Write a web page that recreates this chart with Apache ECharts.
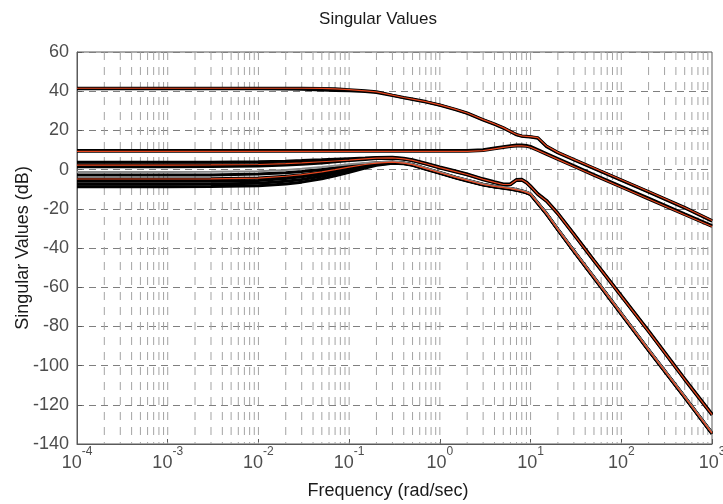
<!DOCTYPE html>
<html>
<head>
<meta charset="utf-8">
<script src="https://cdn.jsdelivr.net/npm/echarts@6/dist/echarts.min.js"></script>
<style>
html,body{margin:0;padding:0;background:#fff;}
#chart{width:723px;height:504px;}
</style>
</head>
<body>
<div id="chart"></div>
<script>
// ---- data (frequency in rad/sec, singular values in dB) ----
const FREQ = [1e-4, 1e-3, 3e-3, 0.01, 0.02, 0.03, 0.05, 0.07, 0.1, 0.15, 0.2, 0.3, 0.4, 0.5, 0.7, 1, 1.5, 2, 3, 4, 5, 6, 7, 8, 9, 10, 12, 15, 20, 30, 50, 100, 200, 500, 1000];

// nominal curves (red)
const SV1 = [41.5,41.5,41.5,41.5,41.5,41.5,41.4,41.2,40.8,40.2,39.7,38.0,36.8,36.0,34.7,33.0,30.7,28.9,25.5,23.3,21.4,19.5,17.9,17.2,17.0,16.8,16.3,12.0,8.8,5.2,0.8,-5.2,-11.2,-19.3,-26.0];
const SV2 = [9.3,9.3,9.3,9.3,9.3,9.3,9.3,9.3,9.3,9.3,9.3,9.3,9.3,9.3,9.3,9.3,9.3,9.3,9.7,10.6,11.3,11.8,12.1,12.1,11.9,11.4,9.8,7.8,5.2,1.6,-2.9,-9.0,-15.0,-23.0,-29.0];
const SV3 = [2.3,2.3,2.4,2.6,3.0,3.4,4.0,4.4,4.8,5.5,5.9,6.0,5.5,4.7,3.0,1.0,-1.0,-2.5,-5.0,-6.5,-7.6,-7.5,-5.3,-5.2,-6.6,-8.6,-12.5,-16.0,-22.5,-33.0,-46.5,-64.5,-82.5,-107.0,-125.0];
const SV4 = [-4.8,-4.8,-4.7,-4.3,-3.4,-2.6,-1.2,0.0,1.3,2.6,3.3,3.8,3.3,2.5,0.5,-1.6,-4.0,-5.5,-7.6,-8.6,-9.2,-9.7,-10.3,-10.9,-11.6,-12.5,-17.0,-22.5,-30.5,-41.5,-55.0,-73.5,-92.0,-116.0,-134.5];

// perturbed curves (black)
const SV1_B = [41.2,41.2,41.2,41.2,41.1,41.0,40.6,40.4,40.2,39.8,39.3,37.8,36.6,35.8,34.5,32.8,30.5,28.7,25.3,23.1,21.2,19.3,17.7,17.0,16.8,16.6,16.0,11.7,8.5,4.9,0.5,-5.5,-11.5,-19.6,-26.3];
const SV2_B = [9.7,9.7,9.7,9.7,9.7,9.7,9.7,9.7,9.7,9.7,9.7,9.7,9.7,9.7,9.7,9.7,9.7,9.7,10.1,11.0,11.7,12.2,12.5,12.5,12.3,11.8,10.2,8.2,5.6,2.0,-2.5,-8.6,-14.6,-22.6,-28.6];
const B1 = [3.7,3.7,3.8,4.0,4.3,4.6,5.0,5.3,5.6,5.9,6.2,6.3,5.8,5.0,3.3,1.3,-0.7,-2.2,-4.7,-6.2,-7.3,-7.2,-5.0,-4.9,-6.3,-8.3,-12.2,-15.7,-22.2,-32.7,-46.2,-64.2,-82.2,-106.7,-124.7];
const B2 = [1.5,1.5,1.6,1.8,2.3,2.7,3.4,4.0,4.6,5.2,5.6,5.8,5.3,4.5,2.8,0.8,-1.2,-2.7,-5.2,-6.7,-7.8,-7.7,-5.5,-5.4,-6.8,-8.8,-12.7,-16.2,-22.7,-33.2,-46.7,-64.7,-82.7,-107.2,-125.2];
const G1 = [-1.2,-1.2,-1.1,-0.8,-0.2,0.4,1.3,2.0,2.7,3.4,3.8,4.1,3.6,2.8,0.8,-1.3,-3.7,-5.2,-7.3,-8.3,-8.9,-9.4,-10.0,-10.6,-11.3,-12.2,-16.7,-22.2,-30.2,-41.2,-54.7,-73.2,-91.7,-115.7,-134.2];
const B3 = [-2.8,-2.8,-2.7,-2.3,-1.6,-1.0,0.0,0.9,1.9,3.0,3.5,3.9,3.4,2.6,0.6,-1.5,-3.9,-5.4,-7.5,-8.5,-9.1,-9.6,-10.2,-10.8,-11.5,-12.4,-16.9,-22.4,-30.4,-41.4,-54.9,-73.4,-91.9,-115.9,-134.4];
const B4 = [-6.0,-6.0,-5.9,-5.5,-4.6,-3.7,-2.2,-1.0,0.5,2.0,2.9,3.6,3.2,2.4,0.4,-1.7,-4.1,-5.6,-7.7,-8.7,-9.3,-9.8,-10.4,-11.0,-11.7,-12.6,-17.1,-22.6,-30.6,-41.6,-55.1,-73.6,-92.1,-116.1,-134.6];
const B5 = [-7.5,-7.5,-7.4,-7.0,-6.0,-5.0,-3.4,-2.0,-0.3,1.5,2.6,3.4,3.1,2.3,0.3,-1.8,-4.2,-5.7,-7.8,-8.8,-9.4,-9.9,-10.5,-11.1,-11.8,-12.7,-17.2,-22.7,-30.7,-41.7,-55.2,-73.7,-92.2,-116.2,-134.7];
const B6 = [-8.7,-8.7,-8.6,-8.3,-7.4,-6.4,-4.7,-3.2,-1.4,0.8,2.2,3.2,3.0,2.2,0.2,-1.9,-4.3,-5.8,-7.9,-8.9,-9.5,-10.0,-10.6,-11.2,-11.9,-12.8,-17.3,-22.8,-30.8,-41.8,-55.3,-73.8,-92.3,-116.3,-134.8];

// axis ticks
const Y_MIN = -140, Y_MAX = 60, Y_STEP = 20;
const DECADES = [-4, -3, -2, -1, 0, 1, 2, 3];
const MINOR_MULT = [1, 2, 3, 4, 5, 6, 7, 8, 9];

const FONT = '"Liberation Sans", Arial, Helvetica, sans-serif';
const RED = '#e8461e';

function toPairs(v) { return FREQ.map((w, i) => [w, v[i]]); }

const series = [];

// vertical grid lines at log positions
DECADES.slice(0, -1).forEach((e, di) => {
  MINOR_MULT.forEach(m => {
    if (di === 0 && m === 1) return;
    const x = m * Math.pow(10, e);
    series.push({
      type: 'line', data: [[x, Y_MAX], [x, Y_MIN]], symbol: 'none', silent: true,
      animation: false, z: 1,
      lineStyle: { color: '#a3a3a3', width: 1, type: [8, 7] }
    });
  });
});

function curve(v, color, width, z) {
  return {
    type: 'line', data: toPairs(v), symbol: 'none', showSymbol: false, silent: true,
    animation: false, z: z, clip: true,
    lineStyle: { color: color, width: width }
  };
}

[SV1_B, SV1, SV2_B, SV2, B1, B2, SV3, B3, B4, B5, B6, SV4].forEach(v => series.push(curve(v, '#000', 3, 2)));
series.push(curve(G1, '#8a8a8a', 2, 2));
[SV1, SV2, SV3, SV4].forEach(v => series.push(curve(v, RED, 1.2, 3)));

const chart = echarts.init(document.getElementById('chart'), null, { renderer: 'canvas' });
chart.setOption({
  animation: false,
  backgroundColor: '#fff',
  grid: { left: 77, right: 11, top: 52, bottom: 60, containLabel: false, outerBoundsMode: 'none',
          show: true, borderColor: '#5a5a5a', borderWidth: 1, backgroundColor: 'transparent' },
  xAxis: {
    type: 'log', logBase: 10, min: 1e-4, max: 1e3, splitNumber: 7,
    axisLine: { show: true, onZero: false, lineStyle: { color: '#5a5a5a', width: 1 } },
    axisTick: { show: true, inside: true, length: 5, lineStyle: { color: '#5a5a5a' } },
    splitLine: { show: false },
    minorTick: { show: false },
    axisLabel: {
      margin: 10,
      formatter: function (val) {
        const e = Math.round(Math.log10(val));
        return '{b|10}{s|' + e + '}';
      },
      rich: {
        b: { fontSize: 18, fontFamily: FONT, color: '#4d4d4d', lineHeight: 18, verticalAlign: 'bottom' },
        s: { fontSize: 12, fontFamily: FONT, color: '#4d4d4d', lineHeight: 12, padding: [0, 0, 14, 0], verticalAlign: 'bottom' }
      }
    }
  },
  yAxis: {
    type: 'value', min: Y_MIN, max: Y_MAX, interval: Y_STEP,
    axisLine: { show: true, onZero: false, lineStyle: { color: '#5a5a5a', width: 1 } },
    axisTick: { show: true, inside: true, length: 5, lineStyle: { color: '#5a5a5a' } },
    splitLine: { show: true, lineStyle: { color: '#7f7f7f', width: 1, type: [7, 5] } },
    axisLabel: { margin: 8, fontSize: 18, fontFamily: FONT, color: '#4d4d4d' }
  },
  graphic: [
    { type: 'text', x: 378, y: 19, silent: true,
      style: { text: 'Singular Values', font: '17px ' + FONT, fill: '#1a1a1a', align: 'center', verticalAlign: 'middle', textAlign: 'center', textVerticalAlign: 'middle' } },
    { type: 'text', x: 388, y: 491, silent: true,
      style: { text: 'Frequency (rad/sec)', font: '18px ' + FONT, fill: '#1a1a1a', align: 'center', verticalAlign: 'middle', textAlign: 'center', textVerticalAlign: 'middle' } },
    { type: 'text', x: 23, y: 248, rotation: Math.PI / 2, silent: true,
      style: { text: 'Singular Values (dB)', font: '18px ' + FONT, fill: '#1a1a1a', align: 'center', verticalAlign: 'middle', textAlign: 'center', textVerticalAlign: 'middle' } }
  ],
  series: series
});
</script>
</body>
</html>
